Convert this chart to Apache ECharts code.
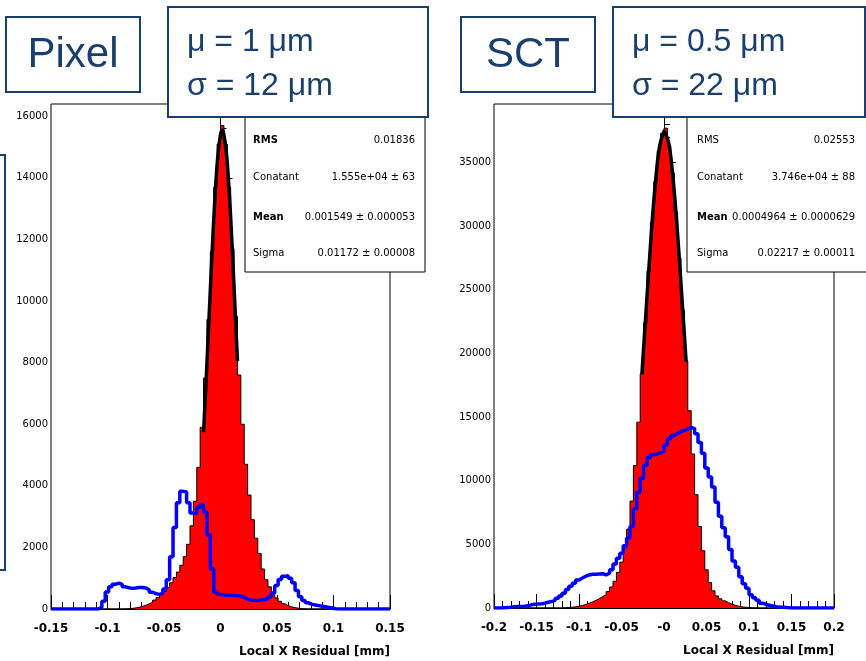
<!DOCTYPE html>
<html><head><meta charset="utf-8">
<script src="https://cdn.jsdelivr.net/npm/echarts/dist/echarts.min.js"></script>
<style>html,body{margin:0;padding:0;background:#fff}#c{width:866px;height:661px}</style>
</head><body><div id="c"></div>
<script>
// ---------- DATA ----------
const pixelLow = -0.15, pixelHigh = 0.15, pixelBinWidth = 0.003;
const sctLow = -0.2, sctHigh = 0.2, sctBinWidth = 0.004;

// Pixel (left) – red filled histogram (100 bins)
const pixelRed = [
  0,0,0,0,0,0,0,0,0,0, 0,0,0,0,0,0,0,0,0,0, 0,
  5,10,20,35,55,85,120,170,220,290,370,460,570,700,850,1020,1200,1420,1700,2100,
  2700,3500,4600,5900,7500,9400,11600,13700,15100,15700,15100,13700,11700,9500,7600,6000,
  4700,3700,2900,2300,1800,1300,950,720,520,360,250,170,110,70,45,25,10,5,
  0,0,0,0,0,0,0,0,0,0, 0,0,0,0,0,0,0,0,0,0, 0,0,0,0,0
];
// Pixel (left) – blue histogram
const pixelBlue = [
  0,0,0,0,0,0,0,0,0,0, 0,0,0,0,
  60,250,550,720,800,840,800,720,690,670,680,700,700,680,620,540,500,470,520,650,
  950,1700,2650,3450,3820,3800,3450,3120,3100,3300,3380,3150,2400,1300,550,470,
  460,450,450,440,430,420,380,320,290,280,280,290,300,330,400,520,760,960,1060,1080,
  1000,850,600,400,280,200,150,130,110,90,70,50,30,10,
  0,0,0,0,0,0,0,0,0,0, 0,0,0,0,0,0
];
// Pixel gaussian fit curve
const pixelFitX = [-0.015,-0.0125,-0.01,-0.0075,-0.005,-0.0025,0,0.0015,0.0025,0.005,0.0075,0.01,0.0125,0.015];
const pixelFitY = [5740,7580,9570,11540,13300,14650,15410,15550,15500,14890,13670,11990,10050,8050];

// SCT (right) – red filled histogram (100 bins)
const sctRed = [
  0,0,0,0,0,0,0,0,0,0, 0,0,0,0,0,0,0,0,0,0,
  20,40,60,90,140,200,280,380,480,600,750,900,1050,1300,1650,2100,2800,3600,4700,6200,
  8400,11200,14600,18400,22400,26500,30300,33500,35900,37300,37700,36300,34200,31100,27500,23400,
  19400,15500,12100,8900,6400,4500,3000,2000,1350,950,720,560,420,300,210,140,90,60,35,15,5,
  0,0,0,0,0,0,0,0,0,0, 0,0,0,0,0,0,0,0,0,0, 0,0,0
];
// SCT (right) – blue histogram
const sctBlue = [
  0,0,20,40,60,100,110,120,140,170,250,300,320,340,380,450,520,600,760,950,
  1150,1450,1700,1950,2200,2350,2500,2600,2650,2650,2680,2700,2600,2750,3000,3450,3900,4300,4900,5500,
  6400,7800,9100,10200,11200,11800,12050,12100,12200,12300,12800,13300,13550,13700,13850,13950,14050,14200,14100,13700,
  13000,12150,11000,10300,9500,8300,7200,6300,5600,4600,3700,3200,2450,1900,1550,1050,800,600,380,280,
  220,160,100,70,50,30,15,
  0,0,0,0,0,0,0,0,0,0,0,0,0
];
const sctFitX = [-0.026,-0.02,-0.015,-0.01,-0.005,0,0.0005,0.005,0.01,0.015,0.02,0.026];
const sctFitY = [18370,24460,29360,33490,36330,37450,37460,36700,34180,30260,25470,19370];

// tick labels
const pixelXTicks = ['-0.15','-0.1','-0.05','0','0.05','0.1','0.15'];
const sctXTicks = ['-0.2','-0.15','-0.1','-0.05','-0','0.05','0.1','0.15','0.2'];
const pixelYTicks = ['0','2000','4000','6000','8000','10000','12000','14000','16000'];
const sctYTicks = ['0','5000','10000','15000','20000','25000','30000','35000'];

// stats box texts
const pixelStats = [['RMS','0.01836'],['Conatant','1.555e+04 \u00b1 63'],['Mean','0.001549 \u00b1 0.000053'],['Sigma','0.01172 \u00b1 0.00008']];
const sctStats = [['RMS','0.02553'],['Conatant','3.746e+04 \u00b1 88'],['Mean','0.0004964 \u00b1 0.0000629'],['Sigma','0.02217 \u00b1 0.00011']];
const pixelTitle = 'Pixel', sctTitle = 'SCT';
const pixelFitText = ['\u03bc = 1 \u03bcm', '\u03c3 = 12 \u03bcm'];
const sctFitText = ['\u03bc = 0.5 \u03bcm', '\u03c3 = 22 \u03bcm'];

// ---------- BUILD ----------
function stepHist(low, width, counts, high) {
  const pts = counts.map((c, i) => [+(low + width * i).toFixed(5), c]);
  pts.push([high, counts[counts.length - 1]]);
  return pts;
}
function zip(xs, ys) { return xs.map((x, i) => [x, ys[i]]); }

const NAVY = '#1b3f6d';
const axisFont = 'DejaVu Sans';

function xAxis(grid, min, max, labels) {
  return {
    gridIndex: grid, type: 'value', min: min, max: max, interval: 0.05,
    axisLine: { lineStyle: { color: '#000', width: 1 } },
    axisTick: { inside: true, length: 14, lineStyle: { color: '#000' } },
    minorTick: { show: true, splitNumber: 5, length: 7, lineStyle: { color: '#000' } },
    splitLine: { show: false },
    axisLabel: {
      margin: 14, fontFamily: axisFont, fontWeight: 'bold', fontSize: 12, color: '#000',
      formatter: v => labels[Math.round((v - min) / 0.05)] || ''
    },
    name: 'Local X Residual [mm]', nameLocation: 'end', nameGap: 0,
    nameTextStyle: { align: 'right', verticalAlign: 'top', padding: [37, 0, 0, 0],
      fontFamily: axisFont, fontWeight: 'bold', fontSize: 12, color: '#000' }
  };
}
function yAxis(grid, max, interval, labels) {
  return {
    gridIndex: grid, type: 'value', min: 0, max: max, interval: interval,
    axisLine: { show: true, lineStyle: { color: '#000', width: 1 } },
    axisTick: { show: true, inside: true, length: 12, lineStyle: { color: '#000' } },
    minorTick: { show: true, splitNumber: 5, length: 6, lineStyle: { color: '#000' } },
    splitLine: { show: false },
    axisLabel: { margin: 3, fontFamily: axisFont, fontSize: 10, color: '#000',
      formatter: v => labels.includes(String(v)) ? String(v) : '' }
  };
}
function redSeries(xi, data) {
  return { type: 'line', xAxisIndex: xi, yAxisIndex: xi, step: 'end', data: data,
    showSymbol: false, symbol: 'none', lineStyle: { color: '#000', width: 1 },
    areaStyle: { color: '#ff0000', opacity: 1 }, z: 2 };
}
function blueSeries(xi, data) {
  return { type: 'line', xAxisIndex: xi, yAxisIndex: xi, step: 'end', data: data,
    showSymbol: false, symbol: 'none', lineStyle: { color: '#0000ff', width: 3.5 }, z: 4 };
}
function fitSeries(xi, data) {
  return { type: 'line', xAxisIndex: xi, yAxisIndex: xi, smooth: 0.4, data: data,
    showSymbol: false, symbol: 'none', lineStyle: { color: '#000', width: 3.5 }, z: 3 };
}

function statsGraphics(x, w, labelX, valueRight, stats, boldSet) {
  const els = [{ type: 'rect', shape: { x: x, y: 100, width: w, height: 172 },
    style: { fill: '#fff', stroke: '#000', lineWidth: 1 }, z: 50 }];
  const ys = [140, 177, 217, 253];
  stats.forEach((s, i) => {
    els.push({ type: 'text', x: labelX, y: ys[i], z: 51,
      style: { text: s[0], fill: '#000', font: (boldSet.includes(s[0]) ? 'bold ' : '') + '10px DejaVu Sans',
        align: 'left', verticalAlign: 'middle' } });
    els.push({ type: 'text', x: valueRight, y: ys[i], z: 51,
      style: { text: s[1], fill: '#000', font: '10px DejaVu Sans', align: 'right', verticalAlign: 'middle' } });
  });
  return els;
}
function titleGraphics(bx, title, fx, fw, fitText) {
  return [
    { type: 'rect', shape: { x: bx, y: 17, width: 134, height: 75 }, style: { fill: '#fff', stroke: NAVY, lineWidth: 2 }, z: 90 },
    { type: 'text', x: bx + 67, y: 55, z: 91, style: { text: title, fill: NAVY, font: '42px Liberation Sans', align: 'center', verticalAlign: 'middle' } },
    { type: 'rect', shape: { x: fx, y: 7, width: fw, height: 110 }, style: { fill: '#fff', stroke: NAVY, lineWidth: 2 }, z: 90 },
    { type: 'text', x: fx + 19, y: 42, z: 91, style: { text: fitText[0], fill: NAVY, font: '32px Liberation Sans', align: 'left', verticalAlign: 'middle' } },
    { type: 'text', x: fx + 19, y: 86, z: 91, style: { text: fitText[1], fill: NAVY, font: '32px Liberation Sans', align: 'left', verticalAlign: 'middle' } }
  ];
}

const graphics = [].concat(
  [{ type: 'rect', shape: { x: -20, y: 155, width: 25, height: 415 }, style: { fill: 'none', stroke: NAVY, lineWidth: 2 }, z: 90 }],
  statsGraphics(245, 180, 253, 415, pixelStats, ['RMS', 'Mean']),
  statsGraphics(687, 190, 697, 855, sctStats, ['Mean']),
  titleGraphics(6, pixelTitle, 168, 260, pixelFitText),
  titleGraphics(461, sctTitle, 613, 252, sctFitText)
);

const option = {
  animation: false,
  backgroundColor: '#fff',
  grid: [
    { left: 51, top: 104, width: 339, height: 505, show: true, borderColor: '#000', borderWidth: 1, backgroundColor: 'transparent' },
    { left: 494, top: 104, width: 340, height: 504, show: true, borderColor: '#000', borderWidth: 1, backgroundColor: 'transparent' }
  ],
  xAxis: [xAxis(0, pixelLow, pixelHigh, pixelXTicks), xAxis(1, sctLow, sctHigh, sctXTicks)],
  yAxis: [yAxis(0, 16400, 2000, pixelYTicks), yAxis(1, 39600, 5000, sctYTicks)],
  series: [
    redSeries(0, stepHist(pixelLow, pixelBinWidth, pixelRed, pixelHigh)),
    fitSeries(0, zip(pixelFitX, pixelFitY)),
    blueSeries(0, stepHist(pixelLow, pixelBinWidth, pixelBlue, pixelHigh)),
    redSeries(1, stepHist(sctLow, sctBinWidth, sctRed, sctHigh)),
    fitSeries(1, zip(sctFitX, sctFitY)),
    blueSeries(1, stepHist(sctLow, sctBinWidth, sctBlue, sctHigh))
  ],
  graphic: graphics
};
const chart = echarts.init(document.getElementById('c'), null, { renderer: 'canvas' });
chart.setOption(option);
</script></body></html>
